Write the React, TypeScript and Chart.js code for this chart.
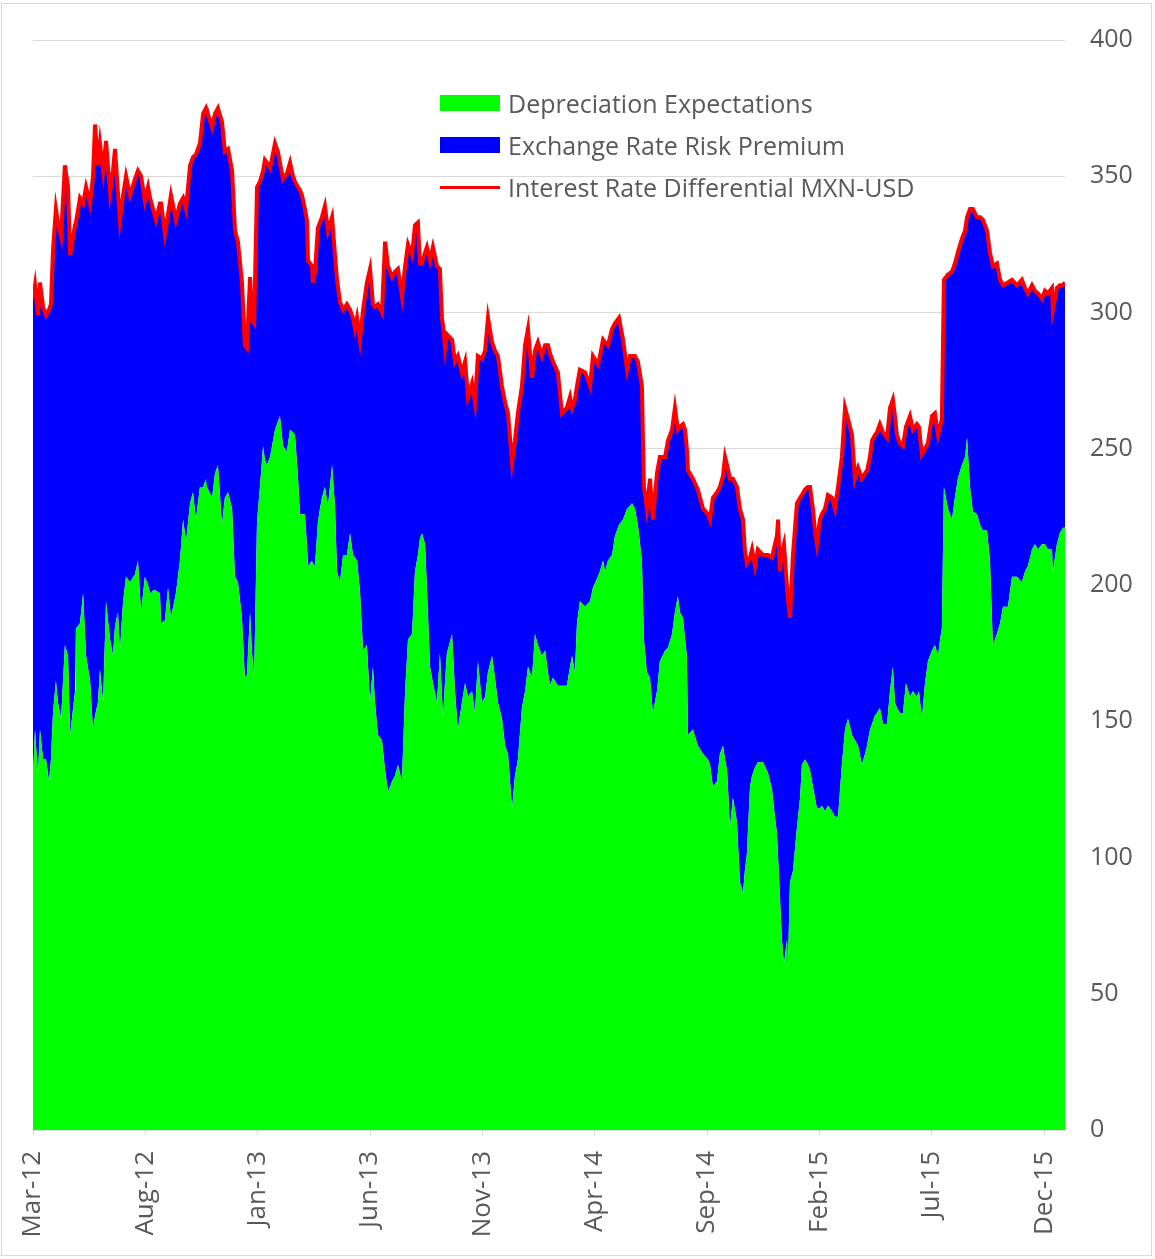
import React, { useEffect, useRef } from "react";
import { Chart, registerables } from "chart.js";

Chart.register(...registerables);

// months since 1 Mar 2012
const monthIndex = [
  0.00, 0.09, 0.22, 0.31, 0.45, 0.58, 0.71, 0.80, 0.89, 1.02, 1.11, 1.25, 1.42, 1.56, 1.65, 1.87, 1.91, 2.09, 2.23, 2.36,
  2.54, 2.67, 2.76, 2.89, 2.98, 3.12, 3.25, 3.43, 3.56, 3.65, 3.78, 3.87, 4.01, 4.14, 4.32, 4.54, 4.67, 4.81, 4.98, 5.12,
  5.21, 5.34, 5.47, 5.65, 5.70, 5.87, 6.01, 6.14, 6.36, 6.54, 6.68, 6.81, 6.99, 7.12, 7.25, 7.43, 7.57, 7.70, 7.74, 7.97,
  8.10, 8.23, 8.41, 8.54, 8.68, 8.86, 8.99, 9.12, 9.30, 9.43, 9.52, 9.66, 9.75, 9.84, 9.97, 10.10, 10.24, 10.32, 10.41, 10.55,
  10.77, 10.90, 10.99, 11.13, 11.30, 11.44, 11.57, 11.66, 11.79, 11.88, 11.97, 12.10, 12.19, 12.24, 12.42, 12.46, 12.55, 12.68, 12.77, 12.86,
  12.99, 13.13, 13.31, 13.44, 13.53, 13.66, 13.80, 13.97, 14.11, 14.24, 14.33, 14.42, 14.55, 14.69, 14.86, 15.00, 15.13, 15.22, 15.35, 15.53,
  15.67, 15.80, 15.98, 16.11, 16.24, 16.42, 16.56, 16.69, 16.87, 17.00, 17.13, 17.22, 17.31, 17.45, 17.53, 17.67, 17.80, 17.98, 18.11, 18.20,
  18.25, 18.34, 18.42, 18.65, 18.78, 18.91, 19.09, 19.23, 19.36, 19.54, 19.67, 19.80, 19.98, 20.12, 20.25, 20.43, 20.56, 20.69, 20.87, 21.01,
  21.14, 21.32, 21.45, 21.58, 21.76, 21.90, 22.03, 22.21, 22.34, 22.47, 22.65, 22.79, 22.92, 23.01, 23.14, 23.36, 23.54, 23.76, 23.90, 23.99,
  24.12, 24.21, 24.34, 24.57, 24.79, 24.92, 25.14, 25.23, 25.37, 25.46, 25.59, 25.77, 25.90, 26.08, 26.26, 26.44, 26.57, 26.66, 26.79, 26.92,
  27.10, 27.19, 27.32, 27.46, 27.59, 27.77, 27.90, 28.13, 28.26, 28.44, 28.57, 28.70, 28.79, 28.93, 29.02, 29.10, 29.15, 29.37, 29.59, 29.82,
  30.04, 30.13, 30.26, 30.44, 30.57, 30.71, 30.80, 30.89, 31.02, 31.15, 31.33, 31.46, 31.60, 31.68, 31.77, 31.91, 32.00, 32.13, 32.26, 32.49,
  32.71, 32.89, 33.02, 33.11, 33.16, 33.24, 33.33, 33.42, 33.56, 33.60, 33.69, 33.82, 34.00, 34.14, 34.22, 34.36, 34.49, 34.58, 34.71, 34.80,
  34.89, 35.02, 35.11, 35.25, 35.38, 35.56, 35.69, 35.83, 36.00, 36.14, 36.27, 36.45, 36.58, 36.72, 36.89, 37.03, 37.12, 37.25, 37.34, 37.47,
  37.56, 37.69, 37.83, 38.01, 38.14, 38.27, 38.36, 38.45, 38.58, 38.72, 38.85, 39.03, 39.16, 39.34, 39.43, 39.56, 39.70, 39.83, 40.01, 40.14,
  40.28, 40.37, 40.45, 40.54, 40.72, 40.90, 41.03, 41.16, 41.34, 41.48, 41.57, 41.70, 41.83, 42.01, 42.15, 42.28, 42.46, 42.59, 42.72, 42.90,
  43.04, 43.17, 43.39, 43.57, 43.79, 44.01, 44.15, 44.28, 44.46, 44.59, 44.73, 44.90, 45.04, 45.17, 45.35, 45.39, 45.57, 45.70, 45.84, 45.93,
];

// Interest Rate Differential MXN-USD (total, basis points)
const interestDifferential = [
  305, 310, 299, 311, 302, 299, 301, 303, 323, 338, 333, 328, 354, 346, 321, 332, 333, 342, 340, 346,
  340, 350, 369, 354, 362, 352, 363, 344, 352, 360, 344, 334, 343, 350, 343, 349, 352, 350, 341, 346,
  342, 338, 334, 340, 340, 329, 336, 343, 334, 340, 342, 338, 354, 357, 358, 362, 373, 375, 374, 368,
  373, 375, 370, 359, 360, 352, 330, 326, 311, 288, 287, 313, 297, 296, 346, 348, 352, 356, 355, 353,
  362, 359, 355, 349, 351, 355, 350, 348, 346, 345, 343, 338, 334, 319, 317, 311, 315, 331, 333, 335,
  339, 330, 335, 321, 312, 304, 301, 303, 301, 298, 294, 298, 290, 301, 311, 316, 303, 302, 303, 300,
  326, 317, 313, 315, 316, 306, 317, 325, 321, 332, 333, 318, 318, 322, 324, 319, 324, 317, 316, 298,
  295, 287, 292, 290, 282, 284, 278, 282, 269, 274, 267, 284, 283, 286, 298, 289, 286, 284, 273, 267,
  263, 245, 253, 263, 273, 288, 294, 276, 286, 289, 284, 288, 288, 285, 282, 278, 263, 265, 269, 265,
  268, 273, 279, 278, 273, 284, 281, 284, 290, 289, 288, 294, 296, 298, 290, 279, 284, 284, 284, 282,
  273, 236, 228, 239, 224, 241, 247, 247, 253, 257, 265, 257, 258, 259, 257, 250, 242, 239, 235, 228,
  226, 224, 232, 234, 236, 240, 247, 244, 239, 239, 236, 228, 224, 213, 208, 210, 213, 207, 213, 211,
  211, 210, 215, 218, 224, 205, 212, 215, 199, 195, 188, 211, 230, 232, 233, 235, 236, 236, 228, 220,
  215, 224, 226, 228, 233, 232, 228, 236, 247, 265, 261, 255, 239, 243, 239, 241, 242, 247, 253, 255,
  256, 259, 256, 254, 265, 268, 262, 255, 252, 251, 258, 262, 257, 259, 258, 248, 250, 252, 262, 263,
  255, 258, 261, 312, 314, 315, 318, 322, 327, 330, 335, 338, 338, 335, 335, 334, 330, 322, 317, 318,
  312, 310, 311, 312, 310, 312, 309, 307, 310, 308, 307, 305, 308, 307, 309, 301, 309, 310, 310, 311,
];

// Depreciation Expectations (basis points)
const depreciation = [
  130, 147, 130, 147, 136, 136, 128, 136, 153, 165, 157, 151, 178, 174, 145, 161, 184, 186, 197, 174,
  165, 147, 152, 157, 169, 157, 194, 180, 174, 185, 190, 176, 194, 203, 201, 204, 209, 190, 203, 200,
  197, 198, 198, 197, 186, 187, 199, 188, 197, 209, 224, 216, 230, 234, 224, 236, 236, 239, 236, 232,
  241, 244, 222, 232, 234, 228, 203, 201, 188, 166, 167, 190, 175, 166, 223, 236, 251, 246, 244, 247,
  257, 260, 262, 251, 249, 257, 256, 255, 240, 226, 226, 226, 215, 207, 209, 208, 207, 223, 228, 232,
  236, 229, 244, 229, 205, 201, 211, 211, 219, 211, 210, 209, 198, 176, 178, 157, 170, 157, 145, 143,
  132, 124, 128, 130, 134, 128, 161, 180, 182, 205, 211, 217, 219, 215, 199, 170, 164, 157, 175, 160,
  151, 165, 175, 182, 161, 147, 157, 164, 159, 161, 153, 172, 157, 159, 168, 174, 166, 157, 151, 141,
  138, 118, 130, 136, 155, 161, 170, 166, 182, 178, 174, 176, 168, 163, 166, 163, 163, 163, 170, 174,
  168, 186, 194, 192, 194, 199, 203, 205, 209, 205, 209, 211, 218, 222, 224, 228, 229, 230, 228, 222,
  209, 180, 168, 166, 153, 161, 172, 176, 177, 182, 190, 196, 190, 188, 180, 174, 145, 147, 141, 138,
  136, 134, 126, 128, 138, 141, 136, 132, 111, 122, 113, 91, 87, 95, 101, 126, 130, 133, 135, 135,
  131, 125, 115, 109, 100, 86, 70, 61, 70, 61, 91, 95, 111, 122, 134, 136, 134, 132, 126, 122,
  118, 118, 119, 117, 119, 117, 115, 115, 134, 147, 151, 145, 143, 141, 134, 138, 141, 147, 149, 152,
  153, 155, 149, 149, 161, 170, 157, 155, 153, 153, 164, 159, 161, 159, 161, 151, 164, 172, 176, 178,
  174, 180, 184, 236, 228, 224, 232, 239, 244, 247, 254, 236, 227, 226, 222, 220, 220, 209, 178, 182,
  186, 192, 192, 203, 203, 201, 205, 207, 213, 215, 213, 215, 215, 213, 213, 205, 215, 219, 221, 221,
];

const xTickLabels = ["Mar-12", "Aug-12", "Jan-13", "Jun-13", "Nov-13", "Apr-14", "Sep-14", "Feb-15", "Jul-15", "Dec-15"];
const seriesNames = ["Depreciation Expectations", "Exchange Rate Risk Premium", "Interest Rate Differential MXN-USD"];
const seriesColors = ["#00ff00", "#0000ff", "#ff0000"];

const FONT = "'Open Sans', 'DejaVu Sans', sans-serif";

export default function App() {
  const canvasRef = useRef<HTMLCanvasElement>(null);

  useEffect(() => {
    if (!canvasRef.current) return;
    const riskPremium = interestDifferential.map((v, i) => v - depreciation[i]);
    const toXY = (arr: number[]) => arr.map((y, i) => ({ x: monthIndex[i], y }));

    const chart = new Chart(canvasRef.current, {
      type: "line",
      data: {
        datasets: [
          {
            label: seriesNames[0],
            data: toXY(depreciation),
            backgroundColor: seriesColors[0],
            borderColor: seriesColors[0],
            borderWidth: 0,
            fill: "origin",
            stack: "area",
            pointRadius: 0,
            tension: 0,
          },
          {
            label: seriesNames[1],
            data: toXY(riskPremium),
            backgroundColor: seriesColors[1],
            borderColor: seriesColors[1],
            borderWidth: 0,
            fill: "-1",
            stack: "area",
            pointRadius: 0,
            tension: 0,
          },
          {
            label: seriesNames[2],
            data: toXY(interestDifferential),
            borderColor: seriesColors[2],
            borderWidth: 4,
            fill: false,
            stack: "line",
            pointRadius: 0,
            tension: 0,
            order: -1,
          },
        ],
      },
      options: {
        responsive: false,
        animation: false,
        layout: { padding: { left: 33, top: 40, right: 0, bottom: 0 } },
        plugins: { legend: { display: false }, tooltip: { enabled: false } },
        scales: {
          x: {
            type: "linear",
            min: 0,
            max: monthIndex[monthIndex.length - 1],
            grid: { display: true, drawOnChartArea: false, drawTicks: true, tickLength: 5, color: "#d9d9d9" },
            border: { display: true, color: "#d9d9d9" },
            ticks: {
              stepSize: 5,
              includeBounds: false,
              autoSkip: false,
              minRotation: 90,
              maxRotation: 90,
              padding: 16,
              color: "#595959",
              font: { family: FONT, size: 26 },
              callback: (v: any) => xTickLabels[Math.round(Number(v) / 5)] ?? "",
            },
            afterFit: (s: any) => {
              s.height = 129;
            },
          },
          y: {
            position: "right",
            stacked: true,
            min: 0,
            max: 400,
            grid: { color: "#d9d9d9", drawTicks: false },
            border: { display: false },
            ticks: {
              stepSize: 50,
              padding: 25,
              color: "#595959",
              font: { family: FONT, size: 25 },
            },
            afterFit: (s: any) => {
              s.width = 90;
            },
          },
        },
      },
    });
    return () => chart.destroy();
  }, []);

  const legendRows = [
    { top: 103, kind: "box" },
    { top: 145, kind: "box" },
    { top: 187, kind: "line" },
  ];

  return (
    <div style={{ position: "absolute", left: 0, top: 0, width: 1155, height: 1259, background: "#fff" }}>
      <div
        style={{
          position: "absolute",
          left: 1,
          top: 3,
          width: 1151,
          height: 1253,
          border: "1px solid #d9d9d9",
          boxSizing: "border-box",
        }}
      />
      <canvas ref={canvasRef} width={1155} height={1259} style={{ position: "absolute", left: 0, top: 0, display: "block" }} />
      {legendRows.map((r, i) => (
        <div key={i} style={{ position: "absolute", left: 440, top: r.top - 20, height: 40, display: "flex", alignItems: "center" }}>
          <div
            style={{
              width: 60,
              height: r.kind === "box" ? 16 : 3,
              background: seriesColors[i],
              marginRight: 8,
            }}
          />
          <span style={{ fontFamily: FONT, fontSize: 25, color: "#595959", whiteSpace: "nowrap", lineHeight: "40px" }}>
            {seriesNames[i]}
          </span>
        </div>
      ))}
    </div>
  );
}
